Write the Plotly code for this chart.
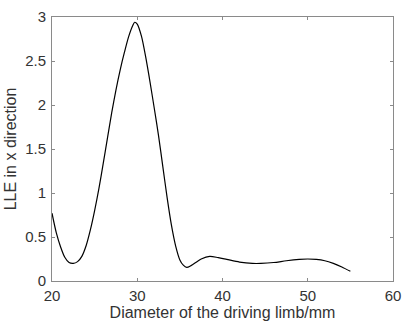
import plotly.graph_objects as go

# Curve
diameter = [20, 20.5, 21, 21.5, 22, 22.5, 23, 23.5, 24, 24.5, 25, 25.5, 26, 26.5,
            27, 27.5, 28, 28.5, 29, 29.5, 29.7, 30, 30.5, 31, 31.5, 32, 32.5, 33,
            33.5, 34, 34.5, 35, 35.4, 35.8, 36.3, 37, 37.5, 38.5, 39.5, 40.5, 42,
            43.5, 44.5, 46, 47.5, 49, 50, 51, 52, 53, 54, 55]
lle = [0.77, 0.55, 0.39, 0.27, 0.21, 0.20, 0.22, 0.28, 0.40, 0.58, 0.80, 1.05,
       1.33, 1.62, 1.91, 2.17, 2.40, 2.60, 2.78, 2.91, 2.94, 2.92, 2.78, 2.54,
       2.26, 1.96, 1.65, 1.30, 0.95, 0.64, 0.40, 0.24, 0.18, 0.155, 0.175, 0.22,
       0.25, 0.28, 0.265, 0.245, 0.215, 0.20, 0.20, 0.21, 0.23, 0.245, 0.25,
       0.245, 0.23, 0.20, 0.16, 0.11]

x_ticks = [20, 30, 40, 50, 60]
y_ticks = [0, 0.5, 1, 1.5, 2, 2.5, 3]
y_tick_labels = ["0", "0.5", "1", "1.5", "2", "2.5", "3"]

fig = go.Figure()
fig.add_trace(go.Scatter(x=diameter, y=lle, mode="lines",
                         line=dict(color="black", width=1.2, shape="spline", smoothing=0.8),
                         showlegend=False, hoverinfo="skip"))

axis_common = dict(showgrid=False, zeroline=False, showline=True, linecolor="#8a8a8a",
                   linewidth=1, mirror="allticks", ticks="inside", ticklen=3,
                   tickcolor="#8a8a8a", tickwidth=1,
                   tickfont=dict(family="Liberation Sans, Arial, sans-serif", size=15, color="#333333"))

fig.update_layout(
    width=409, height=329,
    margin=dict(l=52, r=8, t=11, b=48),
    paper_bgcolor="white", plot_bgcolor="white",
    font=dict(family="Liberation Sans, Arial, sans-serif", size=15, color="#333333"),
    xaxis=dict(range=[20, 60], tickvals=x_ticks, ticktext=[str(v) for v in x_ticks],
               title=dict(text="Diameter of the driving limb/mm", standoff=3,
                          font=dict(size=16, color="#333333")),
               ticklabelstandoff=1, **axis_common),
    yaxis=dict(range=[0, 3], tickvals=y_ticks, ticktext=y_tick_labels,
               title=dict(text="LLE in x direction", standoff=4,
                          font=dict(size=16, color="#333333")),
               ticklabelstandoff=2, **axis_common),
)

fig.write_html("out.html")
